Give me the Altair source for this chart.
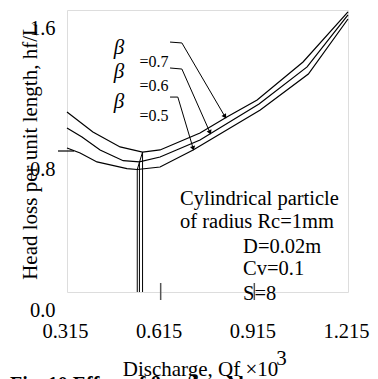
import altair as alt
import pandas as pd

FONT = "'Liberation Serif', 'Times New Roman', serif"

# curve data (discharge Qf x10^3, head loss per unit length hf/L)
top_x = [0.315, 0.398, 0.485, 0.557, 0.613, 0.741, 0.827, 0.924, 1.071, 1.215]
top_y = [1.021, 0.908, 0.823, 0.794, 0.806, 0.902, 0.993, 1.089, 1.305, 1.589]
mid_x = [0.315, 0.363, 0.421, 0.495, 0.547, 0.613, 0.741, 0.930, 1.084, 1.215]
mid_y = [0.931, 0.879, 0.806, 0.745, 0.738, 0.766, 0.862, 1.067, 1.277, 1.572]
bot_x = [0.315, 0.357, 0.411, 0.507, 0.540, 0.613, 0.719, 0.934, 1.088, 1.215]
bot_y = [0.817, 0.789, 0.738, 0.700, 0.695, 0.709, 0.806, 1.033, 1.237, 1.549]
series = ["0.7", "0.6", "0.5"]

# minimum points (vertical drop lines)
min_x = [0.557, 0.547, 0.540]
min_y = [0.794, 0.738, 0.695]

# leader lines for labels
lead_group = ["0.7", "0.7", "0.7", "0.6", "0.6", "0.6", "0.5", "0.5", "0.5"]
lead_x = [0.645, 0.683, 0.821, 0.645, 0.683, 0.773, 0.645, 0.670, 0.719]
lead_y = [1.418, 1.413, 0.995, 1.271, 1.265, 0.905, 1.106, 1.106, 0.815]
arrow_angle = [328, 336, 344]

beta_x = [0.4815, 0.4815, 0.4815]
beta_y = [1.3845, 1.248, 1.078]
eq_x = [0.5936, 0.5936, 0.5936]
eq_y = [1.305, 1.169, 0.9986]
eq_text = ["=0.7", "=0.6", "=0.5"]

note_text = ["Cylindrical particle", "of radius Rc=1mm", "D=0.02m", "Cv=0.1", "S=8"]
note_x = [0.677, 0.677, 0.879, 0.879, 0.879]
note_y = [0.4936, 0.363, 0.221, 0.0965, -0.045]

x_ticks = [0.315, 0.615, 0.915, 1.215]
y_ticks = [0.0, 0.8, 1.6]
inner_x_ticks = [0.615, 0.915]
inner_y_ticks = [0.8]

rows = []
for s, xs, ys in zip(series, [top_x, mid_x, bot_x], [top_y, mid_y, bot_y]):
    for a, b in zip(xs, ys):
        rows.append({"s": s, "x": a, "y": b})
curves = pd.DataFrame(rows)

vlines = pd.DataFrame({"x": min_x, "y": min_y, "y0": [0.0] * 3})
diag = pd.DataFrame({"x": [min_x[0], min_x[2]], "y": [min_y[0], min_y[2]]})
leaders = pd.DataFrame({"g": lead_group, "x": lead_x, "y": lead_y, "o": list(range(9))})
arrows = pd.DataFrame({"x": lead_x[2::3], "y": lead_y[2::3], "a": arrow_angle})
betas = pd.DataFrame({"x": beta_x, "y": beta_y, "t": ["β"] * 3})
eqs = pd.DataFrame({"x": eq_x, "y": eq_y, "t": eq_text})
notes = pd.DataFrame({"x": note_x, "y": note_y, "t": note_text})
xt = pd.DataFrame({"x": inner_x_ticks})
yt = pd.DataFrame({"y": inner_y_ticks})

xscale = alt.Scale(domain=[0.315, 1.215], nice=False, zero=False)
yscale = alt.Scale(domain=[0.0, 1.6], nice=False, zero=False)

xaxis = alt.Axis(values=x_ticks, format=".3f", domain=False, ticks=False, grid=False,
                 labelFontSize=20.5, labelFont=FONT, labelColor="black", labelPadding=45,
                 labelBaseline="alphabetic", labelOffset=-2, labelFlush=False, labelOverlap=False,
                 title="Discharge, Qf ×10", titleFont=FONT, titleFontSize=21, titleFontWeight="normal",
                 titleColor="black", titleX=133, titleY=83, titleBaseline="alphabetic", titleAlign="center")
yaxis = alt.Axis(values=y_ticks, format=".1f", domain=False, ticks=False, grid=False,
                 labelFontSize=20.5, labelFont=FONT, labelColor="black", labelPadding=12,
                 labelBaseline="alphabetic", labelOffset=24, labelFlush=False, labelOverlap=False,
                 title="Head loss per unit length, hf/L", titleFont=FONT, titleFontSize=21,
                 titleFontWeight="normal", titleColor="black", titleAngle=270, titleX=-31, titleY=141,
                 titleBaseline="alphabetic", titleAlign="center")

base_lines = alt.Chart(curves).mark_line(color="black", strokeWidth=1.2).encode(
    x=alt.X("x:Q", scale=xscale, axis=xaxis),
    y=alt.Y("y:Q", scale=yscale, axis=yaxis),
    detail="s:N",
)

vl = alt.Chart(vlines).mark_rule(color="black", strokeWidth=1).encode(
    x="x:Q", y="y:Q", y2="y0:Q")
dg = alt.Chart(diag).mark_line(color="black", strokeWidth=1).encode(x="x:Q", y="y:Q")
ld = alt.Chart(leaders).mark_line(color="black", strokeWidth=1).encode(
    x="x:Q", y="y:Q", detail="g:N", order="o:Q")
ar = alt.Chart(arrows).mark_point(shape="triangle-down", filled=True, color="black", size=28, opacity=1).encode(
    x="x:Q", y="y:Q", angle=alt.Angle("a:Q", scale=None))
bt = alt.Chart(betas).mark_text(font=FONT, fontSize=21, fontStyle="italic", color="black", baseline="middle").encode(
    x="x:Q", y="y:Q", text="t:N")
eq = alt.Chart(eqs).mark_text(font=FONT, fontSize=16, color="black", baseline="middle").encode(
    x="x:Q", y="y:Q", text="t:N")
nt = alt.Chart(notes).mark_text(font=FONT, fontSize=20.5, color="black", align="left", baseline="alphabetic").encode(
    x="x:Q", y="y:Q", text="t:N")
xtk = alt.Chart(xt).mark_rule(color="#555555", strokeWidth=1.5).encode(
    x="x:Q", y=alt.value(273), y2=alt.value(290))
ytk = alt.Chart(yt).mark_rule(color="black", strokeWidth=1.2).encode(
    y="y:Q", x=alt.value(-9), x2=alt.value(7))
sup = alt.Chart(pd.DataFrame({"t": ["3"]})).mark_text(font=FONT, fontSize=21, color="black", baseline="alphabetic").encode(
    x=alt.value(214.5), y=alt.value(355), text="t:N")
cap = alt.Chart(pd.DataFrame({"t": ["Fig. 10 Effect of β on head loss"]})).mark_text(
    font=FONT, fontSize=20, fontWeight="bold", color="black", align="left", baseline="alphabetic").encode(
    x=alt.value(-57), y=alt.value(381), text="t:N")

chart = alt.layer(base_lines, vl, dg, ld, ar, bt, eq, nt, xtk, ytk, sup, cap).properties(
    width=281, height=282,
    autosize=alt.AutoSizeParams(type="none"),
    padding={"left": 67, "top": 10, "right": 30, "bottom": 87},
).configure_view(stroke="black", strokeWidth=1.5).configure(background="white", font=FONT)

chart.save("out.html", embed_options={"renderer": "svg", "actions": False})
